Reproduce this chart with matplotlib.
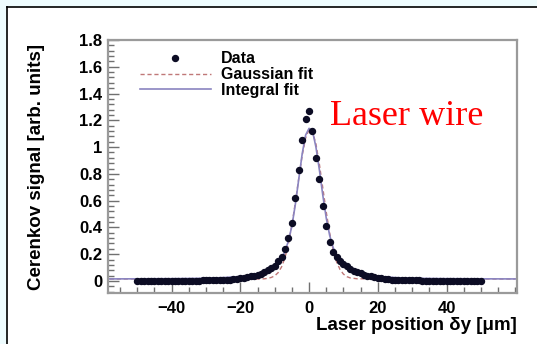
import numpy as np
import matplotlib
matplotlib.use("Agg")
import matplotlib.pyplot as plt
from matplotlib.ticker import MultipleLocator, FuncFormatter
from matplotlib.patches import Rectangle
from matplotlib.lines import Line2D

plt.rcParams['font.family'] = ['Liberation Sans', 'DejaVu Sans']

# measured Cerenkov signal, laser position -50..50 um in 1 um steps
data_x = list(range(-50, 51))
data_y = [
    0.0, 0.0, 0.0, 0.0, 0.0, 0.0, 0.0, 0.0, 0.0, 0.0,
    0.0, 0.0, 0.0, 0.0, 0.002, 0.002, 0.002, 0.003, 0.003, 0.004,
    0.004, 0.005, 0.005, 0.006, 0.007, 0.008, 0.009, 0.010, 0.012, 0.015,
    0.02, 0.025, 0.03, 0.035, 0.04, 0.047, 0.055, 0.065, 0.08, 0.095,
    0.115, 0.15, 0.18, 0.235, 0.32, 0.43, 0.62, 0.83, 1.05, 1.21,
    1.27,
    1.12, 0.92, 0.76, 0.56, 0.41, 0.29, 0.22, 0.18, 0.15, 0.125,
    0.11, 0.09, 0.078, 0.066, 0.056, 0.048, 0.04, 0.034, 0.029, 0.024,
    0.019, 0.015, 0.012, 0.010, 0.009, 0.008, 0.007, 0.006, 0.005, 0.005,
    0.004, 0.004, 0.003, 0.003, 0.002, 0.002, 0.0, 0.0, 0.0, 0.0,
    0.0, 0.0, 0.0, 0.0, 0.0, 0.0, 0.0, 0.0, 0.0, 0.0,
]

# Gaussian fit curve
gauss_x = [-60, -40, -20, -14, -13, -12, -11, -10, -9, -8, -7, -6, -5, -4, -3, -2, -1,
           0, 1, 2, 3, 4, 5, 6, 7, 8, 9, 10, 11, 12, 14, 20, 40, 60]
gauss_y = [0.015, 0.015, 0.015, 0.015, 0.016, 0.02, 0.026, 0.038, 0.062, 0.105, 0.175,
           0.278, 0.416, 0.585, 0.767, 0.938, 1.068,
           1.131, 1.115, 1.023, 0.873, 0.694, 0.515, 0.357, 0.232, 0.143, 0.086,
           0.051, 0.032, 0.0225, 0.0163, 0.015, 0.015, 0.015]

# integral fit curve
integ_x = [-60, -50, -40, -30, -25, -20, -18, -16, -14, -12, -10, -9, -8, -7, -6, -5, -4,
           -3, -2, -1, 0, 1, 2, 3, 4, 5, 6, 7, 8, 9, 10, 12, 14, 16, 18, 20, 25, 30,
           40, 50, 60]
integ_y = [0.015, 0.016, 0.017, 0.02, 0.025, 0.033, 0.038, 0.046, 0.058, 0.078, 0.11,
           0.135, 0.17, 0.22, 0.30, 0.41, 0.57, 0.76, 0.95, 1.09, 1.14, 1.12, 1.0,
           0.83, 0.64, 0.47, 0.34, 0.25, 0.19, 0.15, 0.12, 0.085, 0.063, 0.05, 0.04,
           0.034, 0.025, 0.02, 0.017, 0.016, 0.015]

xticks = [-40, -20, 0, 20, 40]

fig = plt.figure(figsize=(5.37, 3.44), dpi=100)
fig.patch.set_facecolor('#eefcfe')
fig.add_artist(Rectangle((7 / 537, 0), 1, 1 - 7 / 344, transform=fig.transFigure,
                         facecolor='white', edgecolor='none', zorder=0))
fig.add_artist(Line2D([7 / 537, 1], [1 - 7 / 344, 1 - 7 / 344], color='black', lw=1.2))
fig.add_artist(Line2D([7 / 537, 7 / 537], [0, 1 - 7 / 344], color='black', lw=1.2))

ax = fig.add_axes([108 / 537, 51 / 344, 409 / 537, 253 / 344])
ax.set_facecolor('white')

ax.plot(gauss_x, gauss_y, color='#c07878', ls=(0, (3, 2)), lw=1.0, label='Gaussian fit', zorder=2)
ax.plot(integ_x, integ_y, color='#8a84c0', ls='-', lw=1.2, label='Integral fit', zorder=2)
ax.plot(data_x, data_y, 'o', color='#0c0c24', ms=4.3, label='Data', zorder=3)

ax.set_xlim(-58.5, 60.5)
ax.set_ylim(-0.09, 1.8)
ax.set_xticks(xticks)
ax.xaxis.set_minor_locator(MultipleLocator(5))
ax.yaxis.set_major_locator(MultipleLocator(0.2))
ax.yaxis.set_minor_locator(MultipleLocator(0.04))
ax.yaxis.set_major_formatter(FuncFormatter(lambda v, p: '%g' % round(v, 2)))
ax.tick_params(which='both', direction='in', colors='#707070', labelcolor='black',
               top=False, right=False)
ax.tick_params(which='major', length=8, width=1)
ax.tick_params(which='minor', length=4, width=1)
ax.tick_params(axis='x', pad=6)
ax.tick_params(axis='y', pad=4)
for lab in ax.get_xticklabels() + ax.get_yticklabels():
    lab.set_fontweight('bold')
    lab.set_fontsize(12)
for sp in ax.spines.values():
    sp.set_color('#9a9a9a')
    sp.set_linewidth(1.6)

ax.set_ylabel('Cerenkov signal [arb. units]', fontsize=13.5, fontweight='bold')
ax.yaxis.set_label_coords(-0.155, 0.5)
ax.set_xlabel('Laser position δy [μm]', fontsize=13.5, fontweight='bold')
ax.xaxis.set_label_coords(1.0, -0.095)
ax.xaxis.label.set_horizontalalignment('right')
ax.xaxis.label.set_verticalalignment('top')

handles, labels = ax.get_legend_handles_labels()
order = [2, 0, 1]
ax.legend([handles[i] for i in order], [labels[i] for i in order], loc='upper left',
          bbox_to_anchor=(0.042, 1.012), frameon=False, handlelength=4.5, handletextpad=0.6,
          labelspacing=0.05, prop={'weight': 'bold', 'size': 11.5})

fig.text(330 / 537, 1 - 117 / 344, 'Laser wire', color='red', fontsize=26,
         family='Liberation Serif', va='center', ha='left')

fig.savefig('out.png', dpi=100)
